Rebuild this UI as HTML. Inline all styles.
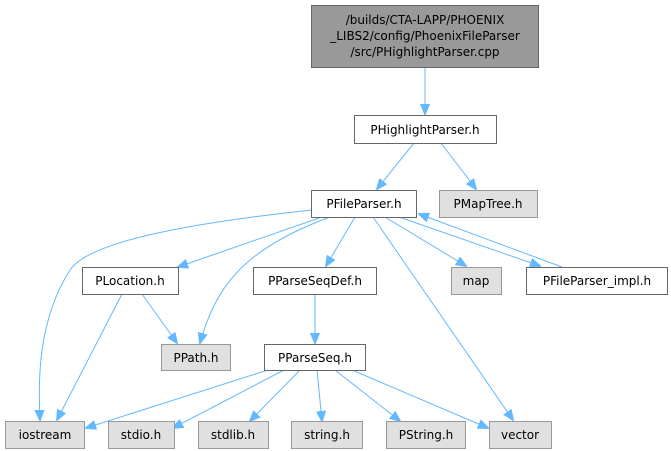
<!DOCTYPE html>
<html><head><style>body{margin:0;background:#fff}svg{display:block}text{font-family:"DejaVu Sans","Liberation Sans",sans-serif;font-size:12px;fill:#000}</style></head><body>
<svg width="671" height="451" viewBox="0 0 671 451" xmlns="http://www.w3.org/2000/svg">
<defs><marker id="a" markerWidth="11" markerHeight="11" refX="10" refY="5.5" orient="auto" markerUnits="userSpaceOnUse"><path d="M0,1 L11,5.5 L0,10 Z" fill="#63b8ff" stroke="#63b8ff"/></marker></defs>
<g fill="none" stroke="#63b8ff" stroke-width="1" marker-end="url(#a)">
<path d="M425,67 L425,114"/>
<path d="M414,143 L377,189"/>
<path d="M441,143 L476,189"/>
<path d="M312,210 C200,222 90,240 70,270 C38,320 38,380 40,420"/>
<path d="M322,217 L178,267"/>
<path d="M330,217 C240,250 215,290 200,343"/>
<path d="M355,217 L326,266"/>
<path d="M385,217 L466,266"/>
<path d="M399,217 L540,266"/>
<path d="M373,217 L513,420"/>
<path d="M562,267 L419,214"/>
<path d="M122,294 L57,420"/>
<path d="M142,294 L177,343"/>
<path d="M315,294 L315,343"/>
<path d="M268,370 L86,428"/>
<path d="M284,370 L173,428"/>
<path d="M300,370 L250,421"/>
<path d="M317,370 L322,421"/>
<path d="M335,370 L400,421"/>
<path d="M352,370 L488,428"/>
</g>
<g stroke="#666" stroke-width="1">
<rect x="311.5" y="5.5" width="227" height="62" fill="#999"/>
<rect x="354.5" y="115.5" width="142" height="28" fill="#fff"/>
<rect x="311.5" y="190.5" width="105" height="27" fill="#fff"/>
<rect x="439.5" y="190.5" width="98" height="27" fill="#e0e0e0" stroke="#999"/>
<rect x="82.5" y="267.5" width="96" height="27" fill="#fff"/>
<rect x="253.5" y="267.5" width="123" height="27" fill="#fff"/>
<rect x="451.5" y="267.5" width="50" height="27" fill="#e0e0e0" stroke="#999"/>
<rect x="526.5" y="267.5" width="141" height="27" fill="#fff"/>
<rect x="161.5" y="344.5" width="69" height="26" fill="#e0e0e0" stroke="#999"/>
<rect x="264.5" y="344.5" width="101" height="26" fill="#fff"/>
<g fill="#e0e0e0" stroke="#999">
<rect x="5.5" y="421.5" width="79" height="27"/>
<rect x="108.5" y="421.5" width="66" height="27"/>
<rect x="198.5" y="421.5" width="70" height="27"/>
<rect x="291.5" y="421.5" width="71" height="27"/>
<rect x="386.5" y="421.5" width="79" height="27"/>
<rect x="489.5" y="421.5" width="62" height="27"/>
</g></g>
<g text-anchor="middle">
<text x="425" y="24">/builds/CTA-LAPP/PHOENIX</text>
<text x="425" y="40">_LIBS2/config/PhoenixFileParser</text>
<text x="425" y="56">/src/PHighlightParser.cpp</text>
<text x="425" y="134">PHighlightParser.h</text>
<text x="364" y="208">PFileParser.h</text>
<text x="488" y="208">PMapTree.h</text>
<text x="130" y="285">PLocation.h</text>
<text x="315" y="285">PParseSeqDef.h</text>
<text x="476" y="285">map</text>
<text x="597" y="285">PFileParser_impl.h</text>
<text x="196" y="362">PPath.h</text>
<text x="315" y="362">PParseSeq.h</text>
<text x="45" y="439">iostream</text>
<text x="141" y="439">stdio.h</text>
<text x="233" y="439">stdlib.h</text>
<text x="327" y="439">string.h</text>
<text x="426" y="439">PString.h</text>
<text x="520" y="439">vector</text>
</g>
</svg></body></html>
